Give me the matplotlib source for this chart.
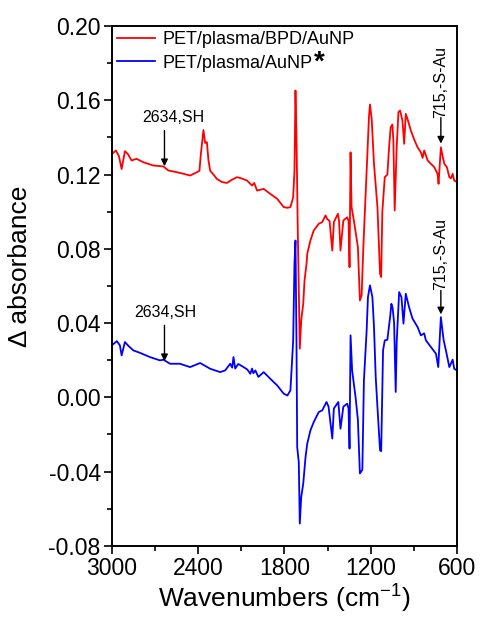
import numpy as np
import matplotlib.pyplot as plt

plt.rcParams['font.family'] = ['Liberation Sans', 'DejaVu Sans']

# PET/plasma/BPD/AuNP spectrum (red)
wn_red = [3000, 2972, 2951, 2932, 2909, 2888, 2863, 2828, 2782, 2712, 2642, 2607,
          2549, 2505, 2456, 2421, 2391, 2381, 2363, 2351, 2339, 2328, 2316, 2293,
          2270, 2235, 2200, 2170, 2130, 2100, 2060, 2025, 2010, 1990, 1944, 1898,
          1851, 1805, 1779, 1758, 1739, 1730, 1723, 1716, 1707, 1693, 1683, 1669,
          1660, 1646, 1641, 1619, 1596, 1561, 1537, 1514, 1502, 1486, 1467, 1456,
          1428, 1420, 1410, 1390, 1363, 1354, 1347, 1340, 1333, 1317, 1289, 1275,
          1263, 1251, 1235, 1223, 1212, 1205, 1193, 1177, 1153, 1135, 1127, 1119,
          1102, 1084, 1072, 1061, 1049, 1042, 1033, 1019, 1007, 995, 979, 967,
          956, 944, 921, 898, 874, 851, 839, 828, 804, 781, 758, 735, 728, 712,
          700, 688, 670, 653, 642, 630, 619, 600]
abs_red = [0.131, 0.133, 0.130, 0.123, 0.1326, 0.131, 0.1276, 0.1285, 0.1267, 0.1249,
           0.1244, 0.1222, 0.1213, 0.1205, 0.1195, 0.1208, 0.122, 0.131, 0.144, 0.137,
           0.1375, 0.1276, 0.122, 0.120, 0.1177, 0.116, 0.1155, 0.117, 0.1186, 0.118,
           0.1168, 0.1141, 0.1155, 0.1114, 0.1123, 0.1096, 0.107, 0.1025, 0.1021, 0.1025,
           0.1078, 0.122, 0.1653, 0.14, 0.09, 0.0262, 0.0415, 0.0504, 0.063, 0.072,
           0.0774, 0.0845, 0.0899, 0.0935, 0.0944, 0.098, 0.096, 0.095, 0.0791, 0.0944,
           0.0989, 0.095, 0.0791, 0.0953, 0.097, 0.095, 0.0701, 0.132, 0.1025, 0.0953,
           0.081, 0.0522, 0.055, 0.081, 0.1097, 0.131, 0.151, 0.1578, 0.150, 0.1258,
           0.1025, 0.0666, 0.0648, 0.100, 0.1186, 0.120, 0.1347, 0.1455, 0.147, 0.138,
           0.1007, 0.135, 0.1536, 0.1545, 0.149, 0.1366, 0.1527, 0.150, 0.1438, 0.139,
           0.1347, 0.132, 0.129, 0.133, 0.1276, 0.1258, 0.124, 0.1204, 0.115, 0.1347,
           0.130, 0.1258, 0.124, 0.1186, 0.118, 0.1204, 0.1168, 0.116]

# PET/plasma/AuNP spectrum (blue)
wn_blue = [3000, 2965, 2944, 2932, 2909, 2888, 2851, 2805, 2735, 2665, 2642, 2595,
           2526, 2456, 2386, 2316, 2247, 2212, 2177, 2163, 2154, 2142, 2121, 2084,
           2058, 2037, 2025, 2016, 2002, 1981, 1944, 1898, 1851, 1805, 1779, 1758,
           1739, 1730, 1723, 1716, 1711, 1700, 1693, 1683, 1669, 1653, 1641, 1619,
           1596, 1561, 1537, 1507, 1493, 1467, 1456, 1425, 1410, 1390, 1363, 1354,
           1347, 1340, 1329, 1305, 1289, 1275, 1258, 1247, 1228, 1219, 1205, 1188,
           1177, 1165, 1153, 1135, 1127, 1114, 1102, 1084, 1065, 1056, 1047, 1037,
           1026, 1019, 1002, 986, 972, 956, 933, 909, 874, 851, 828, 816, 781, 746,
           730, 712, 693, 677, 653, 630, 619, 600]
abs_blue = [0.028, 0.0303, 0.028, 0.0226, 0.0298, 0.028, 0.0253, 0.024, 0.0217, 0.0199,
            0.0203, 0.0181, 0.0181, 0.0163, 0.0185, 0.0154, 0.0136, 0.0145, 0.0181, 0.016,
            0.0217, 0.0155, 0.018, 0.0163, 0.015, 0.0127, 0.0155, 0.013, 0.0145, 0.011,
            0.0136, 0.010, 0.0065, 0.002, 0.001, 0.0038, 0.0307, 0.072, 0.0845, 0.03,
            -0.0268, -0.035, -0.068, -0.0537, -0.0465, -0.0321, -0.0249, -0.0178, -0.0133,
            -0.0079, -0.007, -0.0025, -0.005, -0.0222, -0.006, -0.0025, -0.0169, -0.005,
            -0.0034, -0.006, -0.0276, 0.0334, 0.0145, 0.0, -0.012, -0.041, -0.039, 0.0092,
            0.0361, 0.054, 0.0603, 0.054, 0.0379, 0.011, -0.0052, -0.0285, -0.029, 0.0253,
            0.0307, 0.031, 0.0432, 0.0504, 0.048, 0.040, 0.0029, 0.030, 0.0567, 0.054,
            0.0397, 0.0558, 0.0486, 0.0424, 0.0379, 0.0334, 0.0345, 0.0307, 0.0271, 0.0235,
            0.0163, 0.0432, 0.031, 0.0253, 0.0163, 0.0203, 0.0154, 0.0145]

x_ticks = [3000, 2400, 1800, 1200, 600]
y_ticks = [-0.08, -0.04, 0.00, 0.04, 0.08, 0.12, 0.16, 0.20]

fig = plt.figure(figsize=(4.8, 6.21), dpi=100)
ax = fig.add_axes([0.233, 0.121, 0.719, 0.837])

ax.plot(wn_red, abs_red, color='#ff0000', lw=1.3, label='PET/plasma/BPD/AuNP')
ax.plot(wn_blue, abs_blue, color='#0000ff', lw=1.3, label='PET/plasma/AuNP')

ax.set_xlim(3000, 600)
ax.set_ylim(-0.08, 0.20)
ax.set_xticks(x_ticks)
ax.set_xticks([2700, 2100, 1500, 900], minor=True)
ax.set_yticks(y_ticks)
ax.set_yticks(np.arange(-0.06, 0.20, 0.04), minor=True)
ax.set_yticklabels(['%.2f' % v for v in y_ticks])
ax.tick_params(axis='both', which='major', direction='out', length=6, width=1.2,
               labelsize=16.5, pad=2)
ax.tick_params(axis='both', which='minor', direction='out', length=3.5, width=1.2)
for s in ax.spines.values():
    s.set_linewidth(1.4)

ax.set_xlabel('Wavenumbers (cm$^{\\mathregular{-1}}$)', fontsize=19, labelpad=1)
ax.set_ylabel('Δ absorbance', fontsize=19)
ax.yaxis.set_label_coords(-0.232, 0.537)

leg = ax.legend(loc='upper left', frameon=False, fontsize=13, handlelength=2.1,
                handletextpad=0.4, borderpad=0.1, borderaxespad=0.2,
                labelspacing=0.35)

# bold asterisk stuck to the end of the second legend entry
fig.canvas.draw()
bb = leg.get_texts()[1].get_window_extent()
star_x, star_y = ax.transData.inverted().transform((bb.x1 + 1, bb.y1 - 8))
ax.text(star_x, star_y, '*', fontsize=20, fontweight='bold', ha='left', va='center')

arrow = dict(arrowstyle='-|>', color='black', lw=1.0, mutation_scale=10,
             shrinkA=0, shrinkB=0)
# SH annotations
ax.annotate('', xy=(2634, 0.1245), xytext=(2634, 0.1437), arrowprops=arrow)
ax.text(2575, 0.1505, '2634,SH', fontsize=11.5, ha='center', va='center')
ax.annotate('', xy=(2634, 0.0195), xytext=(2634, 0.0388), arrowprops=arrow)
ax.text(2630, 0.0458, '2634,SH', fontsize=11.5, ha='center', va='center')
# S-Au annotations
ax.annotate('', xy=(712, 0.1367), xytext=(712, 0.1507), arrowprops=arrow)
ax.text(712, 0.1507, '715,-S-Au', fontsize=11.5, rotation=90, ha='center', va='bottom')
ax.annotate('', xy=(712, 0.0447), xytext=(712, 0.0576), arrowprops=arrow)
ax.text(712, 0.0576, '715,-S-Au', fontsize=11.5, rotation=90, ha='center', va='bottom')

fig.savefig('out.png', dpi=100)
